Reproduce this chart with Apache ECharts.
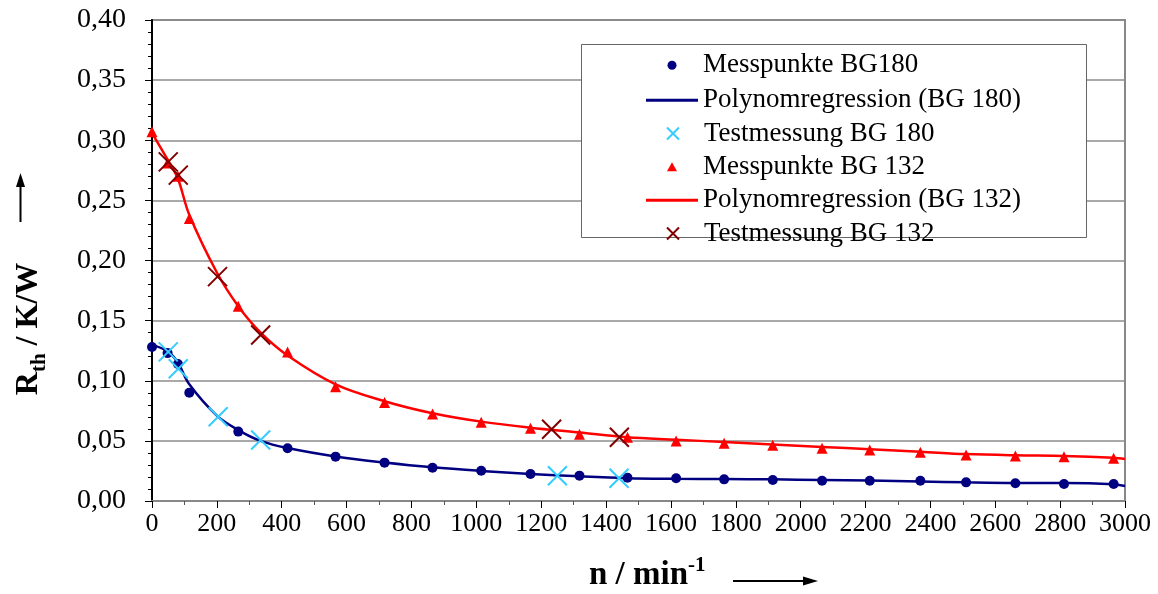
<!DOCTYPE html>
<html>
<head>
<meta charset="utf-8">
<script src="https://cdn.jsdelivr.net/npm/echarts@6/dist/echarts.min.js"></script>
<style>
  html, body { margin: 0; padding: 0; background: #fff; }
  #chart { width: 1158px; height: 594px; }
</style>
</head>
<body>
<div id="chart"></div>
<script>
// Drehzahl der Messpunkte (beide Baugroessen)
var nMess = [0, 48, 80, 115, 266, 418, 566, 717, 865, 1015, 1167, 1318, 1466, 1616, 1764, 1914, 2066, 2213, 2369, 2510, 2662, 2812, 2965];
var rMess180 = [0.128, 0.123, 0.114, 0.090, 0.0577, 0.0438, 0.0369, 0.0319, 0.0277, 0.0252, 0.0225, 0.0211, 0.0194, 0.0189, 0.0180, 0.0175, 0.0169, 0.0169, 0.0169, 0.0155, 0.0147, 0.0141, 0.0141];
var rMess132 = [0.307, 0.281, 0.270, 0.235, 0.162, 0.124, 0.095, 0.082, 0.0724, 0.0655, 0.0605, 0.0555, 0.053, 0.050, 0.048, 0.0463, 0.0438, 0.0424, 0.0405, 0.0383, 0.0374, 0.0369, 0.0355];

// Regressionskurven
var nReg = [0, 50, 80, 115, 200, 266, 335, 418, 566, 717, 865, 1015, 1167, 1318, 1466, 1616, 1764, 1914, 2066, 2213, 2369, 2510, 2662, 2812, 2965, 3000];
var rReg180 = [0.130, 0.124, 0.115, 0.097, 0.071, 0.059, 0.050, 0.044, 0.037, 0.032, 0.028, 0.025, 0.0225, 0.0205, 0.019, 0.0185, 0.0183, 0.0180, 0.0175, 0.0170, 0.0163, 0.0155, 0.0150, 0.0150, 0.0140, 0.0125];
var rReg132 = [0.306, 0.283, 0.268, 0.238, 0.190, 0.162, 0.140, 0.121, 0.097, 0.083, 0.073, 0.066, 0.061, 0.057, 0.053, 0.051, 0.049, 0.047, 0.045, 0.043, 0.041, 0.039, 0.038, 0.0375, 0.036, 0.035];

// Testmessungen
var nTest180 = [50, 81, 204, 335, 1250, 1440];
var rTest180 = [0.124, 0.110, 0.070, 0.0507, 0.021, 0.0189];
var nTest132 = [50, 81, 202, 335, 1232, 1441];
var rTest132 = [0.282, 0.271, 0.1866, 0.138, 0.0596, 0.053];

var legendNames = ['Messpunkte BG180', 'Polynomregression (BG 180)', 'Testmessung BG 180',
                   'Messpunkte BG 132', 'Polynomregression (BG 132)', 'Testmessung BG 132'];

function pairs(xs, ys) {
    return xs.map(function (x, i) { return [x, ys[i]]; });
}

var serif = 'Liberation Serif';
var cross = 'path://M0,0L10,10M10,0L0,10';

// one legend per row, so every icon can get its own size
var rowY = [61.7, 96.7, 130, 163.3, 196.7, 230];
var iconW = [9, 52, 12, 10, 52, 12];
var iconH = [9, 3, 12, 9, 3, 12];
var legends = legendNames.map(function (name, i) {
    var left = 672 - iconW[i] / 2;
    if (iconW[i] > 20) left = 646;
    return {
        orient: 'vertical',
        left: left, top: rowY[i] - 10,
        padding: 0,
        itemWidth: iconW[i], itemHeight: iconH[i],
        icon: iconW[i] > 20 ? 'rect' : undefined,
        textStyle: {
            fontFamily: serif, fontSize: 27, lineHeight: 20, color: '#000',
            padding: [0, 0, 0, 703 - 5 - left - iconW[i]]
        },
        data: [name]
    };
});

var myChart = echarts.init(document.getElementById('chart'));
myChart.setOption({
    animation: false,
    textStyle: { fontFamily: serif },
    grid: {
        left: 152, right: 33, top: 20, bottom: 93,
        show: true, borderColor: '#888', borderWidth: 2
    },
    legend: legends,
    xAxis: {
        type: 'value', min: 0, max: 3000, interval: 200,
        axisLine: { lineStyle: { color: '#888', width: 2 } },
        axisTick: { length: 7, lineStyle: { color: '#000' } },
        minorTick: { show: true, splitNumber: 2, length: 4, lineStyle: { color: '#555' } },
        splitLine: { show: false },
        axisLabel: {
            fontFamily: serif, fontSize: 26, color: '#000', margin: 10,
            formatter: function (v) { return String(v); }
        }
    },
    yAxis: {
        type: 'value', min: 0, max: 0.4, interval: 0.05,
        axisLine: { show: true, lineStyle: { color: '#000', width: 2 } },
        axisTick: { show: true, length: 7, lineStyle: { color: '#000' } },
        minorTick: { show: true, splitNumber: 5, length: 4, lineStyle: { color: '#000' } },
        splitLine: { lineStyle: { color: '#8c8c8c', width: 1.5 } },
        axisLabel: {
            fontFamily: serif, fontSize: 28, color: '#000', margin: 26,
            formatter: function (v) { return v.toFixed(2).replace('.', ','); }
        }
    },
    graphic: [
        {
            type: 'rect', z: 3,
            shape: { x: 581.5, y: 44.5, width: 505, height: 193 },
            style: { fill: '#fff', stroke: '#666', lineWidth: 1 }
        },
        {
            type: 'text', x: 29, y: 329, rotation: Math.PI / 2,
            style: {
                text: '{m|R}{s|th}{m| / K/W}',
                align: 'center', verticalAlign: 'middle',
                rich: {
                    m: { fontFamily: serif, fontSize: 32, fontWeight: 'bold', lineHeight: 42, fill: '#000' },
                    s: { fontFamily: serif, fontSize: 21, fontWeight: 'bold', lineHeight: 42, verticalAlign: 'bottom', fill: '#000' }
                }
            }
        },
        { type: 'line', shape: { x1: 20.5, y1: 222, x2: 20.5, y2: 184 }, style: { stroke: '#000', lineWidth: 2 } },
        { type: 'polygon', shape: { points: [[20.5, 173], [16, 187], [25, 187]] }, style: { fill: '#000' } },
        {
            type: 'text', x: 589, y: 575,
            style: {
                text: '{m|n / min}{p|-1}',
                align: 'left', verticalAlign: 'middle',
                rich: {
                    m: { fontFamily: serif, fontSize: 33, fontWeight: 'bold', lineHeight: 40, fill: '#000' },
                    p: { fontFamily: serif, fontSize: 21, fontWeight: 'bold', lineHeight: 40, verticalAlign: 'top', fill: '#000' }
                }
            }
        },
        { type: 'line', shape: { x1: 733, y1: 581, x2: 805, y2: 581 }, style: { stroke: '#000', lineWidth: 2 } },
        { type: 'polygon', shape: { points: [[818, 581], [803, 576.5], [803, 585.5]] }, style: { fill: '#000' } }
    ],
    series: [
        {
            name: legendNames[0], type: 'scatter', z: 4,
            symbol: 'circle', symbolSize: 10,
            itemStyle: { color: '#000080', opacity: 1 },
            data: pairs(nMess, rMess180)
        },
        {
            name: legendNames[1], type: 'line', z: 3,
            symbol: 'none', smooth: 0.35,
            lineStyle: { color: '#000080', width: 2.5 },
            itemStyle: { color: '#000080' },
            data: pairs(nReg, rReg180)
        },
        {
            name: legendNames[2], type: 'scatter', z: 5,
            symbol: cross, symbolSize: 19,
            itemStyle: { color: 'rgba(0,0,0,0)', borderColor: '#33ccff', borderWidth: 2, opacity: 1 },
            data: pairs(nTest180, rTest180)
        },
        {
            name: legendNames[3], type: 'scatter', z: 4,
            symbol: 'triangle', symbolSize: 11,
            itemStyle: { color: '#ff0000', opacity: 1 },
            data: pairs(nMess, rMess132)
        },
        {
            name: legendNames[4], type: 'line', z: 3,
            symbol: 'none', smooth: 0.35,
            lineStyle: { color: '#ff0000', width: 2.5 },
            itemStyle: { color: '#ff0000' },
            data: pairs(nReg, rReg132)
        },
        {
            name: legendNames[5], type: 'scatter', z: 5,
            symbol: cross, symbolSize: 19,
            itemStyle: { color: 'rgba(0,0,0,0)', borderColor: '#800000', borderWidth: 2, opacity: 1 },
            data: pairs(nTest132, rTest132)
        }
    ]
});
</script>
</body>
</html>
